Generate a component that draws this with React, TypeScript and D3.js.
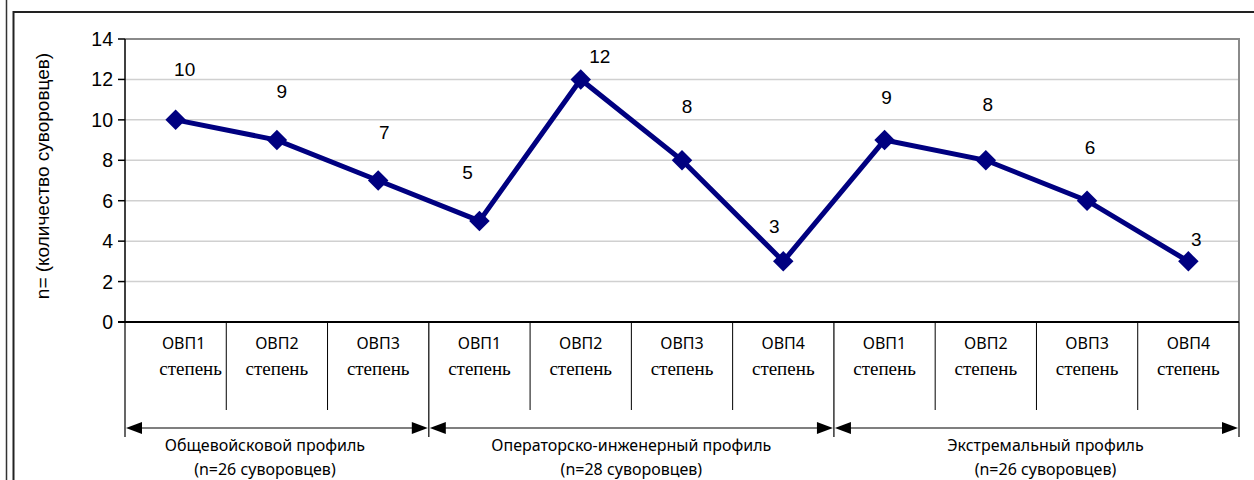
import React from "react";
import * as d3 from "d3";

const categories = ["ОВП1", "ОВП2", "ОВП3", "ОВП1", "ОВП2", "ОВП3", "ОВП4", "ОВП1", "ОВП2", "ОВП3", "ОВП4"];
const values = [10, 9, 7, 5, 12, 8, 3, 9, 8, 6, 3];
const subLabel = "степень";
const yTicks = [0, 2, 4, 6, 8, 10, 12, 14];
const groupNames = ["Общевойсковой профиль", "Операторско-инженерный профиль", "Экстремальный профиль"];
const groupCounts = ["(n=26 суворовцев)", "(n=28 суворовцев)", "(n=26 суворовцев)"];
const groupStarts = [0, 3, 7];
const groupEnds = [3, 7, 11];
const yTitle = "n= (количество суворовцев)";

// layout-only: manual data label offsets (dx, dy) relative to the point
const labelDx = [9, 5, 6, -12, 19, 5, -9, 2, 2, 3, 8];
const labelDy = [-51, -49, -48, -49, -23, -54, -35, -43, -56, -54, -22];
const groupDx = [-12, 0, 9];

export default function App() {
  const W = 1254, H = 480;
  const left = 125, right = 1239, top = 39, bottom = 322;
  const x = d3.scaleBand<number>().domain(d3.range(categories.length)).range([left, right]).padding(0);
  const y = d3.scaleLinear().domain([0, 14]).range([bottom, top]);
  const cx = (i: number) => (x(i) as number) + x.bandwidth() / 2;
  const edge = (i: number) => left + i * x.bandwidth();

  const line = d3.line<number>().x((_, i) => cx(i)).y((d) => y(d));
  const diamond = d3.symbol().type(d3.symbolSquare).size(210)();

  const sans = "'Liberation Sans', Arial, sans-serif";
  const noto = "'Noto Sans', sans-serif";
  const serif = "'Liberation Serif', 'Times New Roman', 'DejaVu Serif', serif";
  const arrowY = 428;

  const arrowHead = (xTip: number, dir: number) =>
    `M${xTip},${arrowY} L${xTip - dir * 16},${arrowY - 6} L${xTip - dir * 16},${arrowY + 6} Z`;

  return (
    <svg width={W} height={H} style={{ position: "absolute", left: 0, top: 0, background: "#fff" }}>
      <rect x={0} y={0} width={W} height={H} fill="#fff" />
      {/* outer frame */}
      <line x1={6.5} x2={6.5} y1={0} y2={H} stroke="#333" strokeWidth={1.5} />
      <path d={`M${W},12 H13.5 V${H}`} fill="none" stroke="#222" strokeWidth={2} />

      {/* gridlines */}
      {yTicks.filter((t) => t > 0 && t < 14).map((t) => (
        <line key={t} x1={left} x2={right} y1={y(t)} y2={y(t)} stroke="#d0d0d0" strokeWidth={1.5} />
      ))}
      {/* plot border top/right */}
      <path d={`M${left},${top} H${right} V${bottom}`} fill="none" stroke="#8a8a8a" strokeWidth={2} />
      {/* y axis */}
      <line x1={left} x2={left} y1={top} y2={bottom} stroke="#000" strokeWidth={1.5} />
      {yTicks.map((t) => (
        <g key={t}>
          <line x1={left - 7} x2={left} y1={y(t)} y2={y(t)} stroke="#000" strokeWidth={1.5} />
          <text x={113} y={y(t)} dy="0.36em" textAnchor="end" fontFamily={sans} fontSize={19.5} fill="#000">{t}</text>
        </g>
      ))}
      <text transform={`translate(49,176) rotate(-90)`} textAnchor="middle" fontFamily={sans} fontSize={19} fill="#000">{yTitle}</text>

      {/* x axis / table */}
      <line x1={left - 7} x2={right} y1={bottom} y2={bottom} stroke="#000" strokeWidth={2} />
      {d3.range(1, categories.length).filter((i) => !groupStarts.includes(i)).map((i) => (
        <line key={"v" + i} x1={edge(i)} x2={edge(i)} y1={bottom} y2={410} stroke="#000" strokeWidth={1} />
      ))}
      {[...groupStarts, categories.length].map((i) => (
        <line key={"g" + i} x1={edge(i)} x2={edge(i)} y1={bottom} y2={437} stroke="#000" strokeWidth={1.2} />
      ))}
      {categories.map((c, i) => (
        <g key={"c" + i}>
          <text x={cx(i) + (i === 0 ? 8 : 0)} y={349} textAnchor="middle" fontFamily={noto} fontSize={16} fill="#000">{c}</text>
          <text x={cx(i) + (i === 0 ? 15 : 0)} y={375} textAnchor="middle" fontFamily={serif} fontSize={19} fill="#000">{subLabel}</text>
        </g>
      ))}
      {groupStarts.map((s, g) => {
        const x0 = edge(s) + 1, x1 = edge(groupEnds[g]) - 1;
        const mid = (x0 + x1) / 2 + groupDx[g];
        return (
          <g key={"grp" + g}>
            <line x1={x0 + 10} x2={x1 - 10} y1={arrowY} y2={arrowY} stroke="#000" strokeWidth={1.2} />
            <path d={arrowHead(x0, -1)} fill="#000" />
            <path d={arrowHead(x1, 1)} fill="#000" />
            <text x={mid} y={451} textAnchor="middle" fontFamily={noto} fontSize={16} fill="#000">{groupNames[g]}</text>
            <text x={mid} y={475} textAnchor="middle" fontFamily={noto} fontSize={16} fill="#000">{groupCounts[g]}</text>
          </g>
        );
      })}

      {/* series */}
      <path d={line(values) || ""} fill="none" stroke="#000080" strokeWidth={5} strokeLinejoin="miter" />
      {values.map((v, i) => (
        <path key={"m" + i} d={diamond || ""} transform={`translate(${cx(i)},${y(v)}) rotate(45)`} fill="#000080" />
      ))}
      {values.map((v, i) => (
        <text key={"l" + i} x={cx(i) + labelDx[i]} y={y(v) + labelDy[i]} dy="0.36em" textAnchor="middle" fontFamily={sans} fontSize={19} fill="#000">{v}</text>
      ))}
    </svg>
  );
}
